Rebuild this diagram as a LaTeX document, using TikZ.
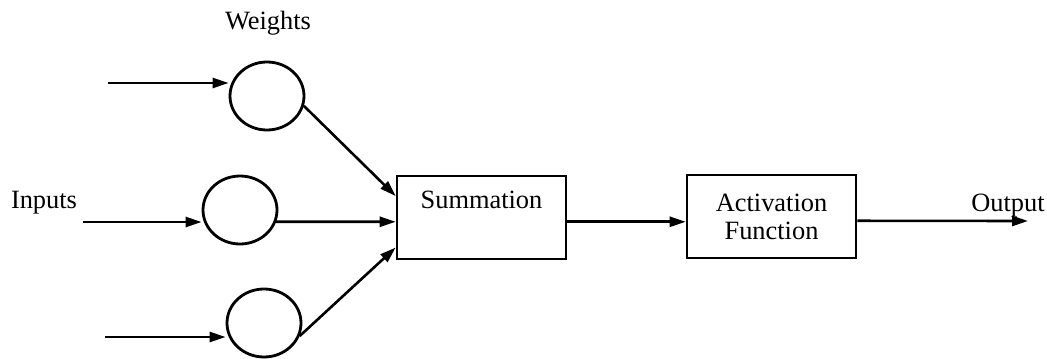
\documentclass[tikz,border=0pt]{standalone}
\usepackage{fontspec}
\setmainfont{Liberation Serif}
\usetikzlibrary{positioning,arrows.meta,calc,shapes.geometric}
\tikzset{
  wgt/.style={ellipse,draw,line width=1.4pt,minimum width=37pt,minimum height=34pt,inner sep=0pt},
  blockbox/.style={draw,line width=1.3pt,minimum width=84.5pt,minimum height=41.5pt,align=center,inner sep=0pt},
  arr/.style={line width=1.3pt,-{Triangle[length=8pt,width=5pt]}},
}

\begin{document}
\begin{tikzpicture}[x=0.5pt,y=-0.5pt,font=\fontsize{13.2}{14}\selectfont]
  \useasboundingbox (0,0) rectangle (1047,358);
  % labels
  \node (wlab) at (268,23) {Weights};
  \node (inlab) at (44,203) {Inputs};
  \node (outlab) at (1008,206) {Output};
  % blocks
  \node[blockbox] (sum) at (481.5,217.5) {Summation\\\strut};
  \node[blockbox] (act) at (771.5,216.5) {Activation\\Function};
  % weights and inputs
  \foreach \cx/\cy/\sx/\sy/\ang/\fr [count=\i] in {
      267/96/108/83/-15/0.25,
      240/210/83/222/-18/0.55,
      264/323/105/337/-20/0.85} {
    \node[wgt] (w\i) at (\cx,\cy) {};
    \coordinate (in\i) at (\sx,\sy);
    \coordinate (s\i) at ($(sum.north west)!\fr!(sum.south west)$);
    \draw[arr] (in\i) -- (in\i -| w\i.west);
    \draw[arr] (w\i.\ang) -- (s\i);
  }
  % output side
  \coordinate (sumout) at ($(sum.north east)!0.55!(sum.south east)$);
  \coordinate (actout) at ($(act.north east)!0.55!(act.south east)$);
  \coordinate (outend) at (1028,221);
  \draw[arr] (sumout) -- (sumout -| act.west);
  \draw[arr] (actout) -- (outend);
\end{tikzpicture}
\end{document}
